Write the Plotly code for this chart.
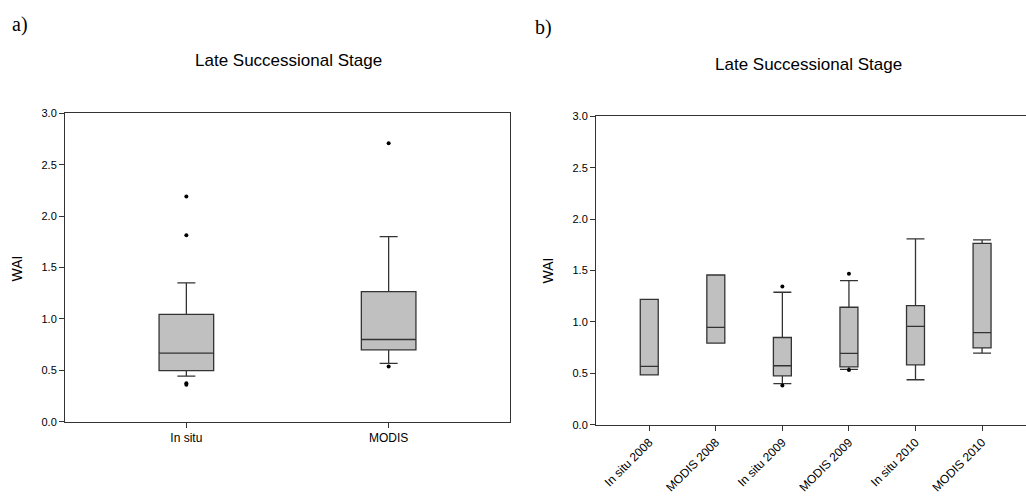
import plotly.graph_objects as go

# ---- Panel a data ----
cats_a = ["In situ", "MODIS"]
q1_a = [0.497, 0.700]
med_a = [0.668, 0.800]
q3_a = [1.045, 1.266]
lo_a = [0.443, 0.567]
hi_a = [1.351, 1.800]
out_a_x = ["In situ", "In situ", "In situ", "In situ", "MODIS", "MODIS"]
out_a_y = [2.19, 1.814, 0.375, 0.36, 2.71, 0.538]

# ---- Panel b data ----
cats_b = ["In situ 2008", "MODIS 2008", "In situ 2009", "MODIS 2009", "In situ 2010", "MODIS 2010"]
q1_b = [0.484, 0.794, 0.475, 0.563, 0.582, 0.747]
med_b = [0.567, 0.946, 0.573, 0.693, 0.956, 0.895]
q3_b = [1.218, 1.456, 0.848, 1.142, 1.158, 1.763]
lo_b = [0.484, 0.794, 0.399, 0.538, 0.437, 0.696]
hi_b = [1.218, 1.456, 1.288, 1.402, 1.807, 1.797]
out_b_x = ["In situ 2009", "In situ 2009", "MODIS 2009", "MODIS 2009"]
out_b_y = [1.345, 0.38, 1.469, 0.532]

y_ticks = [0.0, 0.5, 1.0, 1.5, 2.0, 2.5, 3.0]
title_text = "Late Successional Stage"
y_label = "WAI"

FONT = "Liberation Sans, Arial, sans-serif"
SERIF = "Liberation Serif, Times New Roman, serif"
LINE = "#333333"
FILL = "#c0c0c0"

fig = go.Figure()

fig.add_trace(go.Box(
    x=cats_a, q1=q1_a, median=med_a, q3=q3_a, lowerfence=lo_a, upperfence=hi_a,
    boxpoints=False, fillcolor=FILL, line=dict(color=LINE, width=1.3),
    width=0.27, whiskerwidth=0.33, xaxis="x", yaxis="y", showlegend=False,
    hoverinfo="skip"))
fig.add_trace(go.Scatter(
    x=out_a_x, y=out_a_y, mode="markers", marker=dict(color="black", size=4),
    xaxis="x", yaxis="y", showlegend=False, hoverinfo="skip"))

fig.add_trace(go.Box(
    x=cats_b, q1=q1_b, median=med_b, q3=q3_b, lowerfence=lo_b, upperfence=hi_b,
    boxpoints=False, fillcolor=FILL, line=dict(color=LINE, width=1.3),
    width=0.27, whiskerwidth=1.0, xaxis="x2", yaxis="y2", showlegend=False,
    hoverinfo="skip"))
fig.add_trace(go.Scatter(
    x=out_b_x, y=out_b_y, mode="markers", marker=dict(color="black", size=4),
    xaxis="x2", yaxis="y2", showlegend=False, hoverinfo="skip"))

ax_common = dict(showgrid=False, zeroline=False, showline=True, linecolor=LINE,
                 linewidth=1, ticks="outside", ticklen=5, tickcolor=LINE, tickwidth=1)
xfont = dict(family=FONT, size=12, color="black")
yfont = dict(family=FONT, size=11, color="black")

fig.update_layout(
    width=1026, height=498,
    margin=dict(l=0, r=0, t=0, b=0),
    paper_bgcolor="white", plot_bgcolor="white",
    showlegend=False,
    xaxis=dict(domain=[65/1026, 510/1026], anchor="y", type="category",
               categoryarray=cats_a, categoryorder="array",
               range=[-0.6, 1.6], mirror=True, tickfont=xfont, **ax_common),
    yaxis=dict(domain=[1-426/498, 1-110/498], anchor="x", range=[0, 3],
               tickvals=y_ticks, tickformat=".1f", mirror=True, tickfont=yfont,
               **ax_common),
    xaxis2=dict(domain=[596/1026, 1.0], anchor="y2", type="category",
                categoryarray=cats_b, categoryorder="array",
                range=[-0.8, 5.66], mirror=True, tickangle=-45, tickfont=xfont,
                **ax_common),
    yaxis2=dict(domain=[1-429/498, 1-113/498], anchor="x2", range=[0, 3],
                tickvals=y_ticks, tickformat=".1f", mirror=False, tickfont=yfont,
                **ax_common),
    annotations=[
        dict(text="a)", x=10/1026, y=1-19/498, xref="paper", yref="paper",
             xanchor="left", yanchor="middle", showarrow=False,
             font=dict(family=SERIF, size=20, color="black")),
        dict(text="b)", x=533/1026, y=1-22/498, xref="paper", yref="paper",
             xanchor="left", yanchor="middle", showarrow=False,
             font=dict(family=SERIF, size=20, color="black")),
        dict(text=title_text, x=288/1026, y=1-56/498, xref="paper", yref="paper",
             xanchor="center", yanchor="middle", showarrow=False,
             font=dict(family=FONT, size=17, color="black")),
        dict(text=title_text, x=808/1026, y=1-60/498, xref="paper", yref="paper",
             xanchor="center", yanchor="middle", showarrow=False,
             font=dict(family=FONT, size=17, color="black")),
        dict(text=y_label, x=17/1026, y=1-269/498, xref="paper", yref="paper",
             xanchor="center", yanchor="middle", showarrow=False, textangle=-90,
             font=dict(family=FONT, size=14, color="black")),
        dict(text=y_label, x=548/1026, y=1-271/498, xref="paper", yref="paper",
             xanchor="center", yanchor="middle", showarrow=False, textangle=-90,
             font=dict(family=FONT, size=14, color="black")),
    ],
)

fig.write_html("out.html", config={"displayModeBar": False},
               post_script="document.body.style.margin='0';document.body.style.padding='0';")
